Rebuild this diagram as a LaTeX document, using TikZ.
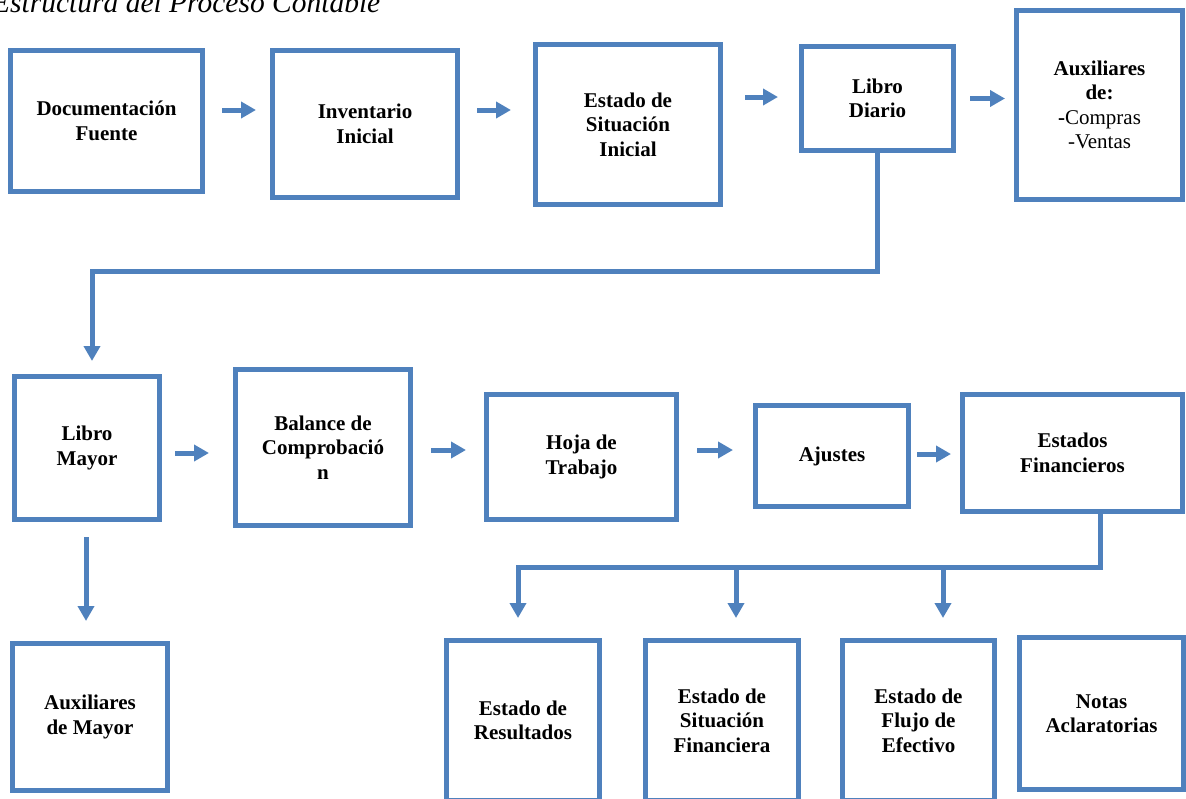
\documentclass[tikz,border=0pt]{standalone}
\usepackage{fontspec}
\setmainfont{Liberation Serif}
\usetikzlibrary{arrows.meta}
\definecolor{fc}{HTML}{4F81BD}
\begin{document}
\begin{tikzpicture}[x=1pt,y=-1pt,
 box/.style={draw=fc,line width=5pt,fill=white,align=center,inner sep=0pt,outer sep=2.5pt,font=\bfseries\fontsize{21}{24.5}\selectfont},
 arr/.style={draw=fc,line width=5pt,line join=miter,-{Triangle[length=15pt 0,width=16pt 0]}},
 ttl/.style={font=\itshape\fontsize{29.5}{32}\selectfont,anchor=base west,inner sep=0pt}]
\useasboundingbox (0,0) rectangle (1186,798);
\node[ttl] (title) at (-8,12.5) {Estructura del Proceso Contable};
% row 1
\node[box,minimum width=192pt,minimum height=141pt] (doc) at (106.5,121) {Documentación\\Fuente};
\node[box,minimum width=185pt,minimum height=147pt] (inv) at (365,124) {Inventario\\Inicial};
\node[box,minimum width=185pt,minimum height=160pt] (esi) at (628,124.5) {Estado de\\Situación\\Inicial};
\node[box,minimum width=152pt,minimum height=104pt] (ldi) at (877.5,98.5) {Libro\\Diario};
\node[box,minimum width=166pt,minimum height=189pt] (aux) at (1099.5,105) {Auxiliares\\de:\\-{\mdseries Compras}\\{\mdseries -Ventas}};
% row 2
\node[box,minimum width=145pt,minimum height=143pt] (lmy) at (87,448) {Libro\\Mayor};
\node[box,minimum width=175pt,minimum height=156pt] (bal) at (323,447.5) {Balance de\\Comprobació\\n};
\node[box,minimum width=190pt,minimum height=125pt] (hoj) at (581.5,457) {Hoja de\\Trabajo};
\node[box,minimum width=153pt,minimum height=101pt] (aju) at (832,456) {Ajustes};
\node[box,minimum width=220pt,minimum height=117pt] (est) at (1072.5,453) {Estados\\Financieros};
% row 3
\node[box,minimum width=155pt,minimum height=147pt] (axm) at (90,717) {Auxiliares\\de Mayor};
\node[box,minimum width=153pt,minimum height=160pt] (res) at (523,720.5) {Estado de\\Resultados};
\node[box,minimum width=153pt,minimum height=160pt] (sif) at (722,720.5) {Estado de\\Situación\\Financiera};
\node[box,minimum width=152pt,minimum height=160pt] (flu) at (918.5,720.5) {Estado de\\Flujo de\\Efectivo};
\node[box,minimum width=164pt,minimum height=152pt] (not) at (1101.5,713.5) {Notas\\Aclaratorias};
% horizontal arrows
\coordinate (p1) at ([yshift=11pt]doc.east);
\draw[arr,shorten <=17pt,shorten >=14pt] (p1) -- (p1 -| inv.west);
\coordinate (p2) at ([yshift=14pt]inv.east);
\draw[arr,shorten <=17pt,shorten >=22pt] (p2) -- (p2 -| esi.west);
\coordinate (p3) at ([yshift=27.5pt]esi.east);
\draw[arr,shorten <=22pt,shorten >=21pt] (p3) -- (p3 -| ldi.west);
\coordinate (p4) at (ldi.east);
\draw[arr,shorten <=14pt,shorten >=9pt] (p4) -- (p4 -| aux.west);
\coordinate (p5) at ([yshift=-5pt]lmy.east);
\draw[arr,shorten <=13pt,shorten >=24pt] (p5) -- (p5 -| bal.west);
\coordinate (p6) at ([yshift=-2.5pt]bal.east);
\draw[arr,shorten <=18pt,shorten >=18pt] (p6) -- (p6 -| hoj.west);
\coordinate (p7) at ([yshift=7pt]hoj.east);
\draw[arr,shorten <=18pt,shorten >=20pt] (p7) -- (p7 -| aju.west);
\coordinate (p8) at ([yshift=2pt]aju.east);
\draw[arr,shorten <=6pt,shorten >=9pt] (p8) -- (p8 -| est.west);
% vertical arrow to auxiliares de mayor
\coordinate (p9) at ([xshift=-1pt]lmy.south);
\draw[arr,shorten <=15pt,shorten >=20pt] (p9) -- (p9 |- axm.north);
% elbow libro diario -> libro mayor
\coordinate (e1) at ([yshift=-118pt]ldi.south);
\coordinate (e2) at ([xshift=5pt]lmy.north);
\draw[arr,shorten >=13pt] (ldi.south) -- (e1) -| (e2);
% elbow estados financieros -> estados
\coordinate (f0) at ([xshift=27.5pt]est.south);
\coordinate (fj) at ([yshift=-53pt]f0);
\coordinate (r1) at ([xshift=-5pt]res.north);
\coordinate (r2) at ([xshift=14pt]sif.north);
\coordinate (r3) at ([xshift=24.5pt]flu.north);
\draw[arr,shorten >=20pt] (f0) -- (fj) -| (r1);
\draw[arr,shorten >=20pt] (fj -| r2) -- (r2);
\draw[arr,shorten >=20pt] (fj -| r3) -- (r3);
\end{tikzpicture}
\end{document}
